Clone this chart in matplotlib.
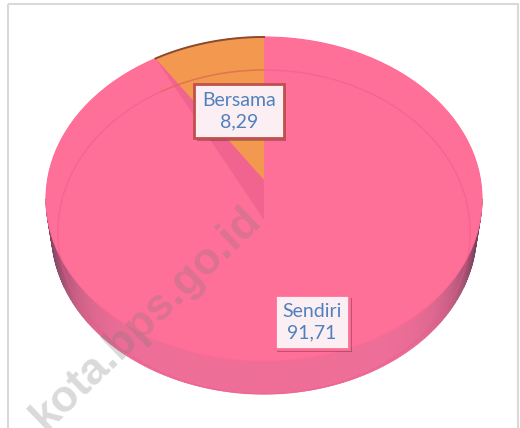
import numpy as np
import matplotlib
matplotlib.use("Agg")
import matplotlib.pyplot as plt
from matplotlib.patches import Ellipse, Polygon, Rectangle
from matplotlib.collections import PolyCollection
import matplotlib.patheffects as pe

# data
categories = ["Bersama", "Sendiri"]
values = [8.29, 91.71]
colors = ["#F2994F", "#FF7099"]

# pie geometry in pixels
cx, cy = 264, 199
rx, ry = 218, 162
depth = 33
bottom_shrink = 0.975

fig = plt.figure(figsize=(5.2, 4.28), dpi=100)
ax = fig.add_axes([0, 0, 1, 1])
ax.set_xlim(0, 520)
ax.set_ylim(428, 0)
ax.axis("off")


def pt(theta, shrink=1.0, dy=0.0):
    return cx + rx * shrink * np.cos(theta), cy - ry * np.sin(theta) + dy


# side wall (front half only)
th = np.linspace(np.pi, 2 * np.pi, 181)
quads, qcols = [], []
base = np.array(matplotlib.colors.to_rgb("#EE6E98"))
dark = np.array(matplotlib.colors.to_rgb("#74405A"))
for a, b in zip(th[:-1], th[1:]):
    x1, y1 = pt(a)
    x2, y2 = pt(b)
    x3, y3 = pt(b, bottom_shrink, depth)
    x4, y4 = pt(a, bottom_shrink, depth)
    quads.append([(x1, y1), (x2, y2), (x3, y3), (x4, y4)])
    m = 0.5 * (a + b)
    k = abs(np.cos(m)) ** 8
    qcols.append(base * (1 - k) + dark * k)
ax.add_collection(PolyCollection(quads, facecolors=qcols, edgecolors=qcols, linewidths=0.6))

# top face
ax.add_patch(Ellipse((cx, cy), 2 * rx, 2 * ry, facecolor=colors[1], edgecolor="#FF6A96", lw=0.8))

# faint bottom outline seen through the top
tt = np.linspace(0, 2 * np.pi, 300)
bx, by = pt(tt, bottom_shrink * 0.97, depth)
ax.plot(bx, by, color="#F0558A", lw=1.0, alpha=0.45)

# small slice (starts at 12 o'clock, counter-clockwise)
frac = values[0] / sum(values)
t0, t1 = np.pi / 2, np.pi / 2 + 2 * np.pi * frac
arc = np.linspace(t0, t1, 60)
ax_, ay_ = pt(arc)
apex_top = (cx, cy - 19)
apex_low = (cx, cy + 21)
orange = list(zip(ax_, ay_)) + [apex_top]
ax.add_patch(Polygon(orange, closed=True, facecolor=colors[0], edgecolor="none"))
ox, oy = pt(arc, bottom_shrink * 0.97, depth)
ax.plot(ox, oy, color="#D8703A", lw=1.0, alpha=0.6)
ax.plot(ax_, ay_, color="#8B4A2E", lw=1.4)

# cut face of the big slice
ex, ey = pt(t1)
ax.add_patch(Polygon([(ex, ey), apex_top, apex_low], closed=True,
                     facecolor="#F0648F", edgecolor="none"))

# watermark (cut at the lower-left corner, as in the source)
ax.text(146, 318, "kota.bps.go.id", rotation=44, fontsize=32, fontweight="bold",
        family="Liberation Sans", color="#7A7A7A", alpha=0.28,
        ha="center", va="center", rotation_mode="anchor")

# labels
label_pos = [(239, 111), (312, 322)]
label_edges = ["#C0504D", "#FF7099"]
for name, v, (lx, ly), ec in zip(categories, values, label_pos, label_edges):
    txt = f"{name}\n{v:.2f}".replace(".", ",")
    t = ax.text(lx, ly, txt, ha="center", va="center", fontsize=14,
                family="Lato", color="#4F81BD", linespacing=1.35,
                bbox=dict(boxstyle="square,pad=0.4", facecolor="#FBEFF3",
                          edgecolor=ec, linewidth=2))
    t.get_bbox_patch().set_path_effects([
        pe.SimplePatchShadow(offset=(2, -2), shadow_rgbFace="#000000", alpha=0.25),
        pe.Normal()])

# chart border
ax.add_patch(Rectangle((8, 4), 510, 440, facecolor="none", edgecolor="#D9D9D9", lw=1.5))

fig.savefig("out.png", dpi=100)
